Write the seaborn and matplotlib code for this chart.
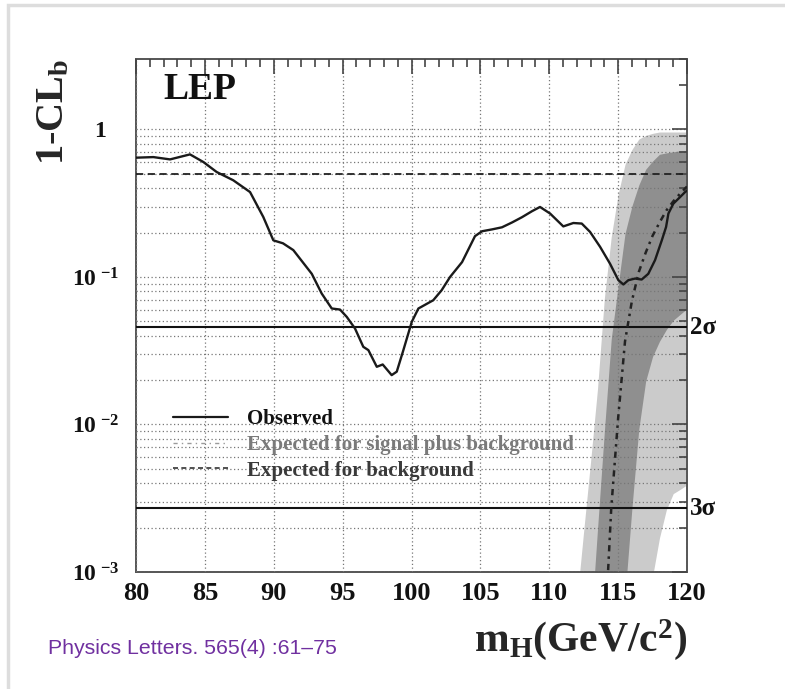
import numpy as np
import pandas as pd
import matplotlib
matplotlib.use("Agg")
import matplotlib.pyplot as plt
import seaborn as sns
from matplotlib.lines import Line2D
from matplotlib.patches import Rectangle
from matplotlib.ticker import FixedLocator, FixedFormatter, NullFormatter, MultipleLocator

# ---------------- data ----------------
obs_mass = [80.0, 81.26, 82.47, 83.92, 84.89, 85.86, 87.06, 88.28, 89.24, 89.97,
            90.67, 91.42, 92.76, 93.48, 94.21, 94.81, 95.3, 95.9, 96.5, 96.87,
            97.48, 97.91, 98.56, 98.93, 99.41, 100.02, 100.5, 101.58, 102.19, 102.8,
            103.67, 104.61, 105.12, 105.85, 106.57, 107.3, 108.02, 108.75, 109.33, 110.06,
            111.02, 111.75, 112.36, 112.96, 113.69, 114.41, 115.02, 115.38, 115.74, 116.23,
            116.71, 117.19, 117.68, 118.17, 118.48, 118.65, 119.01, 119.5, 119.86, 120.0]
obs_clb = [0.643, 0.649, 0.626, 0.677, 0.601, 0.514, 0.452, 0.376, 0.255, 0.177,
           0.169, 0.152, 0.105, 0.0772, 0.0611, 0.0601, 0.0536, 0.0447, 0.0336, 0.0319,
           0.0246, 0.0255, 0.0216, 0.0228, 0.0319, 0.0496, 0.0611, 0.0695, 0.0813, 0.100,
           0.126, 0.189, 0.204, 0.210, 0.217, 0.234, 0.254, 0.279, 0.298, 0.269,
           0.220, 0.232, 0.230, 0.202, 0.160, 0.123, 0.095, 0.0889, 0.095, 0.0975,
           0.096, 0.105, 0.130, 0.177, 0.218, 0.269, 0.314, 0.348, 0.376, 0.385]

sb_mass = [114.0, 114.5, 115.0, 115.5, 116.0, 116.5, 117.0, 117.5, 118.0, 118.5, 119.0, 119.5, 120.0]
sb_median = [3.2e-4, 2.7e-3, 0.011, 0.0366, 0.0687, 0.108, 0.146, 0.19, 0.233, 0.282, 0.325, 0.367, 0.41]

band_mass = [112.0, 112.5, 113.0, 113.5, 114.0, 114.5, 115.0, 115.5, 116.0, 116.5,
             117.0, 117.5, 118.0, 118.5, 119.0, 119.5, 120.0]
sb_2s_hi = [6.3e-4, 1.9e-3, 5.6e-3, 0.0173, 0.0716, 0.187, 0.363, 0.58, 0.73, 0.86,
            0.91, 0.94, 0.96, 0.96, 0.96, 0.96, 0.96]
sb_2s_lo = [1e-4, 1e-4, 1e-4, 1e-4, 1e-4, 1e-4, 1e-4, 1e-4, 1e-4, 1e-4,
            1e-4, 9.3e-4, 1.7e-3, 2.64e-3, 3.4e-3, 3.63e-3, 3.9e-3]
sb_1s_hi = [1e-4, 1e-4, 4e-4, 1.93e-3, 8.97e-3, 0.038, 0.0873, 0.197, 0.302, 0.42,
            0.537, 0.61, 0.678, 0.693, 0.705, 0.716, 0.72]
sb_1s_lo = [1e-4, 1e-4, 1e-4, 1e-4, 1e-4, 1e-4, 1e-4, 6.9e-4, 2.7e-3, 9.3e-3,
            0.0197, 0.0289, 0.0366, 0.044, 0.0509, 0.0557, 0.061]

bkg_median = 0.5
sigma_levels = [0.0455, 0.0027]
sigma_labels = ["2σ", "3σ"]

x_major = [80, 85, 90, 95, 100, 105, 110, 115, 120]
x_tick_labels = ["80", "85", "90", "95", "100", "105", "110", "115", "120"]
y_major = [1e-3, 1e-2, 1e-1, 1.0]
y_tick_labels = [r"$\mathbf{10}^{\ \mathbf{-3}}$", r"$\mathbf{10}^{\ \mathbf{-2}}$",
                 r"$\mathbf{10}^{\ \mathbf{-1}}$", r"$\mathbf{1}$   "]

legend_labels = ["Observed", "Expected for signal plus background", "Expected for background"]

# ---------------- style ----------------
sns.set_style("white")
plt.rcParams["font.family"] = ["Liberation Serif", "DejaVu Serif"]
plt.rcParams["font.weight"] = "bold"
plt.rcParams["mathtext.fontset"] = "custom"
plt.rcParams["mathtext.rm"] = "Liberation Serif:bold"
plt.rcParams["mathtext.bf"] = "Liberation Serif:bold"
plt.rcParams["mathtext.it"] = "Liberation Serif:bold"

fig = plt.figure(figsize=(7.85, 6.89), dpi=100, facecolor="white")
ax = fig.add_axes([136 / 785, 1 - 572 / 689, 551 / 785, 513 / 689])
ax.set_facecolor("white")

obs_df = pd.DataFrame({"mass": obs_mass, "clb": obs_clb})
sb_df = pd.DataFrame({"mass": sb_mass, "clb": sb_median})

# bands
ax.fill_between(band_mass, sb_2s_lo, sb_2s_hi, color="#cbcbcb", lw=0, zorder=1)
ax.fill_between(band_mass, sb_1s_lo, sb_1s_hi, color="#8f8f8f", lw=0, zorder=1.1)

# sigma lines
for lvl, lab in zip(sigma_levels, sigma_labels):
    ax.axhline(lvl, color="#111111", lw=1.5, zorder=3)
    ax.text(1.006, lvl, lab, transform=ax.get_yaxis_transform(), ha="left", va="center",
            fontsize=18, fontweight="bold", color="#111111")

# background expectation
ax.axhline(bkg_median, color="#222222", lw=1.3, ls=(0, (4, 2.5)), zorder=3)

# s+b expectation
sns.lineplot(data=sb_df, x="mass", y="clb", ax=ax, color="#222222", lw=1.8,
             linestyle=(0, (2.5, 2, 1, 2)), zorder=4, estimator=None, sort=False)
# observed
sns.lineplot(data=obs_df, x="mass", y="clb", ax=ax, color="#1a1a1a", lw=1.7,
             zorder=5, estimator=None, sort=False)

ax.set_yscale("log")
ax.set_xlim(80, 120)
ax.set_ylim(1e-3, 3.0)

# ticks
ax.xaxis.set_major_locator(FixedLocator(x_major))
ax.xaxis.set_major_formatter(FixedFormatter(x_tick_labels))
ax.xaxis.set_minor_locator(MultipleLocator(1))
ax.yaxis.set_major_locator(FixedLocator(y_major))
ax.yaxis.set_major_formatter(FixedFormatter(y_tick_labels))
minor_y = [m * 10.0 ** e for e in range(-3, 1) for m in range(2, 10)]
ax.yaxis.set_minor_locator(FixedLocator(minor_y))
ax.yaxis.set_minor_formatter(NullFormatter())

ax.tick_params(which="both", direction="in", top=True, right=True, colors="#444444",
               labelcolor="#111111")
ax.tick_params(which="major", length=11, width=1.2)
ax.tick_params(which="minor", length=5.5, width=1.2)
ax.tick_params(axis="x", which="major", pad=7, labelsize=19)
ax.tick_params(axis="y", which="major", pad=12, labelsize=17)
for lab in ax.get_xticklabels() + ax.get_yticklabels():
    lab.set_fontweight("bold")

# grid
ax.set_axisbelow(False)
ax.grid(True, which="major", axis="x", color="#777777", ls=(0, (1, 2)), lw=0.9)
ax.grid(True, which="both", axis="y", color="#777777", ls=(0, (1, 2)), lw=0.9)
ax.grid(False, which="minor", axis="x")
for tk in ax.yaxis.get_minor_ticks():
    if tk.get_loc() > 1.0:
        tk.gridline.set_visible(False)

for s in ax.spines.values():
    s.set_color("#555555")
    s.set_linewidth(1.4)

ax.set_xlabel(r"$\mathbf{m_{H}(GeV/c^{2})}$", fontsize=30, loc="right")
ax.xaxis.set_label_coords(1.0, -0.088)
ax.xaxis.label.set_verticalalignment("top")
ax.set_ylabel(r"$\mathbf{1\text{-}CL_{b}}$", fontsize=29, loc="top")
ax.yaxis.set_label_coords(-0.116, 1.0)

ax.text(0.049, 0.975, "LEP", transform=ax.transAxes, ha="left", va="top",
        fontsize=27, fontweight="bold", color="#111111")

handles = [Line2D([], [], color="#1a1a1a", lw=1.6),
           Line2D([], [], color="#9a9a9a", lw=1.0, ls=(0, (3, 3, 1, 3))),
           Line2D([], [], color="#333333", lw=1.2, ls=(0, (3, 2)))]
leg = ax.legend(handles, legend_labels, loc="upper left", bbox_to_anchor=(0.067, 0.317),
                frameon=False, fontsize=15, handlelength=2.65, handletextpad=0.9,
                labelspacing=0.27, borderpad=0, borderaxespad=0)
for t, c in zip(leg.get_texts(), ["#111111", "#7a7a7a", "#3a3a3a"]):
    t.set_color(c)
    t.set_fontweight("bold")

fig.text(48 / 785, 1 - 648 / 689, "Physics Letters. 565(4) :61–75", family="Liberation Sans",
         fontsize=15.3, fontweight="normal", color="#7030a0", ha="left", va="center")

fig.patches.append(Rectangle((8 / 785, -0.1), 1.2, 1 - 5 / 689 + 0.1, transform=fig.transFigure,
                             fill=False, ec="#dddddd", lw=2.5))

fig.savefig("out.png", dpi=100, facecolor="white")
